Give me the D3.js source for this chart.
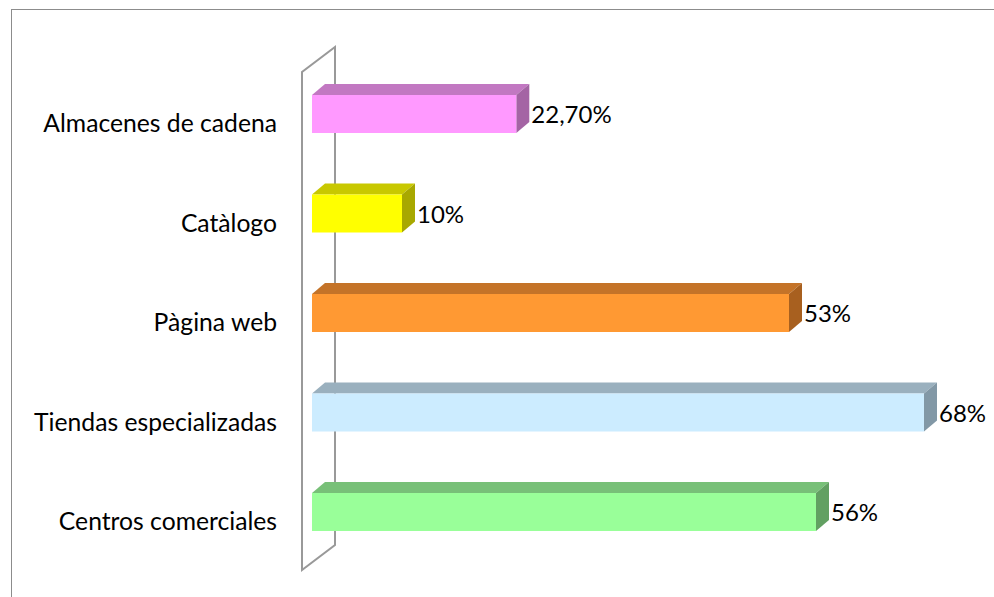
<!DOCTYPE html>
<html><head><meta charset="utf-8">
<script src="https://cdn.jsdelivr.net/npm/d3@7/dist/d3.min.js"></script>
<style>body{margin:0;background:#fff}svg{display:block}</style>
</head><body>
<script>
const categories = ["Almacenes de cadena","Catàlogo","Pàgina web","Tiendas especializadas","Centros comerciales"];
const values = [22.7, 10, 53, 68, 56];
const valueLabels = ["22,70%","10%","53%","68%","56%"];
const faceColors = ["#FF99FF","#FFFF00","#FF9933","#CCECFF","#99FF99"];
const topColors  = ["#C278C2","#C8C800","#C47328","#9AB0BE","#78C078"];
const sideColors = ["#A464A4","#A8A800","#A8601F","#8298A6","#62A062"];

const W = 994, H = 597;
const svg = d3.select("body").append("svg").attr("width", W).attr("height", H);

// outer frame
svg.append("rect").attr("x", 11.5).attr("y", 9.5).attr("width", 1000).attr("height", 620)
  .attr("fill", "none").attr("stroke", "#8c8c8c").attr("stroke-width", 1);

const x = d3.scaleLinear().domain([0, 100]).range([312, 1212]);
const y = d3.scalePoint().domain(categories).range([114, 512]);
const barH = 38, dx = 13, dy = 11;
const font = "Lato, 'Open Sans', sans-serif";

// wall (3D axis plane)
const wx0 = 302, wx1 = 335, wyTop = 72, wyBot = 570, wdy = 25;
svg.append("path")
  .attr("d", `M${wx0},${wyBot} L${wx0},${wyTop} L${wx1},${wyTop - wdy} L${wx1},${wyBot - wdy} Z`)
  .attr("fill", "#fff").attr("stroke", "#999").attr("stroke-width", 2);

const g = svg.append("g");
categories.forEach((c, i) => {
  const x0 = x(0), x1 = x(values[i]);
  const yc = y(c), y0 = yc - barH / 2, y1 = yc + barH / 2;
  g.append("path").attr("d", `M${x0},${y0} L${x0 + dx},${y0 - dy} L${x1 + dx},${y0 - dy} L${x1},${y0} Z`)
    .attr("fill", topColors[i]);
  g.append("path").attr("d", `M${x1},${y0} L${x1 + dx},${y0 - dy} L${x1 + dx},${y1 - dy} L${x1},${y1} Z`)
    .attr("fill", sideColors[i]);
  g.append("rect").attr("x", x0).attr("y", y0).attr("width", x1 - x0).attr("height", barH)
    .attr("fill", faceColors[i]);
  g.append("text").attr("x", x1 + dx + 2).attr("y", yc + 3)
    .attr("dominant-baseline", "middle")
    .attr("font-family", font).attr("font-size", 24).attr("fill", "#000")
    .text(valueLabels[i]);
  g.append("text").attr("x", 277).attr("y", yc + 12)
    .attr("text-anchor", "end").attr("dominant-baseline", "middle")
    .attr("font-family", font).attr("font-size", 24.7).attr("fill", "#000")
    .text(c);
});
</script>
</body></html>
